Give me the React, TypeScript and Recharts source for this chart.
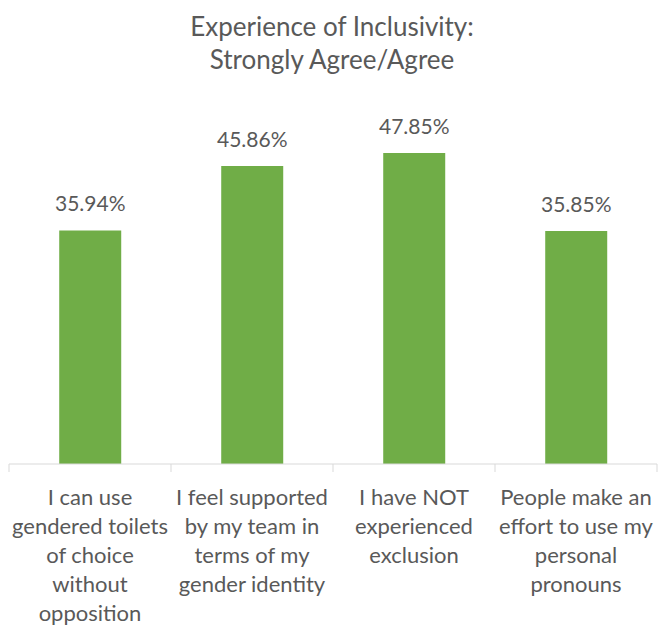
import { Bar, BarChart, LabelList, XAxis, YAxis } from 'recharts'

const categories = [
  'I can use gendered toilets of choice without opposition',
  'I feel supported by my team in terms of my gender identity',
  'I have NOT experienced exclusion',
  'People make an effort to use my personal pronouns',
]

const tickLines = [
  ['I can use', 'gendered toilets', 'of choice', 'without', 'opposition'],
  ['I feel supported', 'by my team in', 'terms of my', 'gender identity'],
  ['I have NOT', 'experienced', 'exclusion'],
  ['People make an', 'effort to use my', 'personal', 'pronouns'],
]

const values = [0.3594, 0.4586, 0.4785, 0.3585]

const boundaryTicks = [0, 1, 2, 3, 4]

const data = categories.map((name, i) => ({ name, idx: i, value: values[i] }))

const textColor = '#595959'
const font = 'Lato, "Open Sans", sans-serif'

function CategoryTick(props: any) {
  const { x, y, index } = props
  const lines = tickLines[index] || []
  return (
    <text
      x={x}
      y={y}
      textAnchor='middle'
      fill={textColor}
      fontSize={22}
      fontFamily={font}
    >
      {lines.map((line, i) => (
        <tspan key={i} x={x} y={y + 32 + i * 29}>
          {line}
        </tspan>
      ))}
    </text>
  )
}

export default function App() {
  return (
    <div style={{ position: 'absolute', left: 0, top: 0, width: 658, height: 626, background: '#fff' }}>
      <div
        style={{
          position: 'absolute',
          left: 0,
          top: 10,
          width: 664,
          textAlign: 'center',
          fontFamily: font,
          fontSize: 26,
          lineHeight: '33px',
          color: textColor,
        }}
      >
        Experience of Inclusivity:
        <br />
        Strongly Agree/Agree
      </div>
      <BarChart
        width={658}
        height={626}
        data={data}
        margin={{ top: 74, right: 1, bottom: 0, left: 9 }}
        barCategoryGap='31%'
      >
        <XAxis
          xAxisId='bounds'
          type='number'
          dataKey='idx'
          domain={[0, 4]}
          ticks={boundaryTicks}
          tickFormatter={() => ''}
          height={1}
          stroke='#d9d9d9'
          tickSize={8}
          allowDataOverflow
        />
        <XAxis
          xAxisId='cat'
          dataKey='name'
          axisLine={false}
          tickLine={false}
          interval={0}
          height={161}
          tick={<CategoryTick />}
        />
        <YAxis hide domain={[0, 0.6]} />
        <Bar
          xAxisId='cat'
          dataKey='value'
          fill='#70ad47'
          isAnimationActive={false}
        >
          <LabelList
            dataKey='value'
            position='top'
            offset={19}
            formatter={(v: any) => `${(Number(v) * 100).toFixed(2)}%`}
            fill={textColor}
            fontSize={21}
            fontFamily={font}
          />
        </Bar>
      </BarChart>
    </div>
  )
}
